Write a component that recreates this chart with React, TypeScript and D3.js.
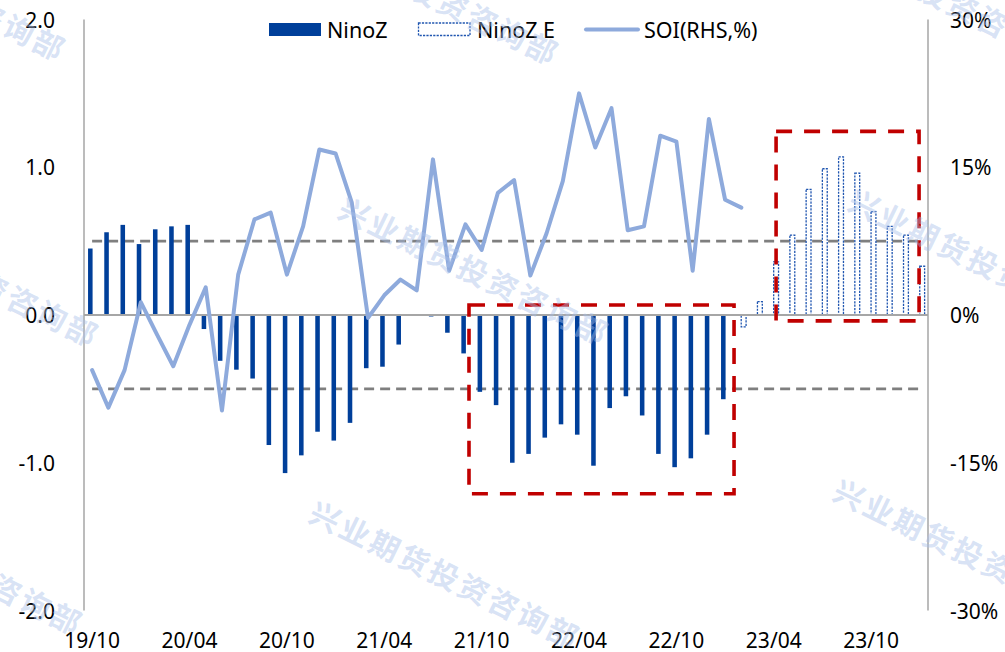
import React from "react";
import * as d3 from "d3";

const categories: string[] = [
  "2019-10","2019-11","2019-12","2020-01","2020-02","2020-03","2020-04","2020-05","2020-06","2020-07","2020-08","2020-09",
  "2020-10","2020-11","2020-12","2021-01","2021-02","2021-03","2021-04","2021-05","2021-06","2021-07","2021-08","2021-09",
  "2021-10","2021-11","2021-12","2022-01","2022-02","2022-03","2022-04","2022-05","2022-06","2022-07","2022-08","2022-09",
  "2022-10","2022-11","2022-12","2023-01","2023-02","2023-03","2023-04","2023-05","2023-06","2023-07","2023-08","2023-09",
  "2023-10","2023-11","2023-12","2024-01",
];

const ninoZ: (number | null)[] = [
  0.45, 0.56, 0.61, 0.48, 0.58, 0.60, 0.61, -0.095, -0.31, -0.37, -0.43, -0.88,
  -1.07, -0.95, -0.79, -0.85, -0.73, -0.36, -0.35, -0.20, 0, -0.01, -0.12, -0.26,
  -0.52, -0.61, -1.00, -0.94, -0.83, -0.74, -0.81, -1.02, -0.63, -0.55, -0.68, -0.94,
  -1.03, -0.97, -0.81, -0.57, null, null, null, null, null, null, null, null,
  null, null, null, null,
];

const ninoZE: (number | null)[] = [
  null, null, null, null, null, null, null, null, null, null, null, null,
  null, null, null, null, null, null, null, null, null, null, null, null,
  null, null, null, null, null, null, null, null, null, null, null, null,
  null, null, null, null, -0.08, 0.09, 0.36, 0.54, 0.85, 0.99, 1.07, 0.96,
  0.70, 0.60, 0.54, 0.33,
];

const soi: (number | null)[] = [
  -5.6, -9.4, -5.6, 1.3, -2.0, -5.2, -1.0, 2.8, -9.7, 4.1, 9.7, 10.4,
  4.1, 9.0, 16.8, 16.4, 11.4, -0.3, 2.0, 3.6, 2.5, 15.8, 4.5, 9.2,
  6.6, 12.4, 13.7, 4.0, 8.3, 13.6, 22.5, 17.0, 21.0, 8.6, 9.0, 18.2,
  17.6, 4.5, 19.9, 11.7, 10.9, null, null, null, null, null, null, null,
  null, null, null, null,
];

const leftTicks: number[] = [2, 1, 0, -1, -2];
const leftTickLabels: string[] = ["2.0", "1.0", "0.0", "-1.0", "-2.0"];
const rightTicks: number[] = [30, 15, 0, -15, -30];
const rightTickLabels: string[] = ["30%", "15%", "0%", "-15%", "-30%"];
const xTickCats: string[] = ["2019-10","2020-04","2020-10","2021-04","2021-10","2022-04","2022-10","2023-04","2023-10"];
const xTickLabels: string[] = ["19/10","20/04","20/10","21/04","21/10","22/04","22/10","23/04","23/10"];
const thresholds: number[] = [0.5, -0.5];

// annotation boxes in data space: [band start (category units), band end, top value, bottom value]
const boxes: [number, number, number, number][] = [
  [23.72, 40.05, 0.068, -1.21],
  [42.64, 51.45, 1.243, -0.04],
];

const watermarkText = "兴业期货投资咨询部";
const watermarkCenters: [number, number][] = [
  [-68, -14], [425, -10], [935, -8],
  [-35, 272], [475, 270], [985, 262],
  [-51, 560], [446, 574], [970, 552],
];

const FONT = "'Noto Sans', 'Open Sans', sans-serif";

export default function App() {
  const W = 1005, H = 652;
  const x = d3.scaleBand<string>().domain(categories).range([84, 928]).padding(0);
  const bw = x.bandwidth();
  const yL = d3.scaleLinear().domain([-2, 2]).range([610.5, 19.5]);
  const yR = d3.scaleLinear().domain([-30, 30]).range([610.5, 19.5]);
  const cx = (c: string) => (x(c) as number) + bw / 2;
  const xUnits = d3.scaleLinear().domain([0, categories.length]).range([84, 928]);

  const line = d3
    .line<number | null>()
    .defined((d) => d !== null)
    .x((_, i) => cx(categories[i]))
    .y((d) => yR(d as number));

  const nzW = bw * 0.28;
  const eW = bw * 0.3;

  return (
    <svg width={W} height={H} style={{ position: "absolute", left: 0, top: 0, background: "#fff" }} fontFamily={FONT}>
      <rect x={0} y={0} width={W} height={H} fill="#fff" />
      {/* threshold dashed lines */}
      {thresholds.map((t) => (
        <line key={t} x1={cx(categories[0])} x2={cx(categories[categories.length - 1])} y1={yL(t)} y2={yL(t)}
          stroke="#7f7f7f" strokeWidth={2.6} strokeDasharray="10 6" />
      ))}
      {/* NinoZ bars */}
      {ninoZ.map((v, i) =>
        v === null ? null : (
          <rect key={"n" + i} x={cx(categories[i]) - 1.8 - nzW / 2} width={nzW}
            y={Math.min(yL(v), yL(0))} height={Math.max(Math.abs(yL(v) - yL(0)), 0.8)} fill="#003f9a" />
        )
      )}
      {/* NinoZ E bars */}
      {ninoZE.map((v, i) =>
        v === null ? null : (
          <rect key={"e" + i} x={cx(categories[i]) + 2.3 - eW / 2} width={eW}
            y={Math.min(yL(v), yL(0))} height={Math.abs(yL(v) - yL(0))} fill="#fff"
            stroke="#1f55b0" strokeWidth={1.3} strokeDasharray="2.2 1.2" />
        )
      )}
      {/* axes */}
      <line x1={84} x2={84} y1={yL(2)} y2={yL(-2)} stroke="#a6a6a6" strokeWidth={1.5} />
      <line x1={928} x2={928} y1={yL(2)} y2={yL(-2)} stroke="#a6a6a6" strokeWidth={1.5} />
      <line x1={84} x2={928} y1={yL(0)} y2={yL(0)} stroke="#a6a6a6" strokeWidth={1.8} />
      {/* SOI line */}
      <path d={line(soi) || ""} fill="none" stroke="#8eaadc" strokeWidth={4} strokeLinejoin="round" strokeLinecap="round" />
      {/* red boxes */}
      {boxes.map((b, i) => (
        <rect key={"b" + i} x={xUnits(b[0])} y={yL(b[2])} width={xUnits(b[1]) - xUnits(b[0])} height={yL(b[3]) - yL(b[2])}
          fill="none" stroke="#c00000" strokeWidth={3.6} strokeDasharray="16 12" />
      ))}
      {/* tick labels */}
      {leftTicks.map((t, i) => (
        <text key={"l" + t} x={55} y={yL(t)} textAnchor="end" dominantBaseline="central" fontSize={21} fill="#000">
          {leftTickLabels[i]}
        </text>
      ))}
      {rightTicks.map((t, i) => (
        <text key={"r" + t} x={950} y={yR(t)} textAnchor="start" dominantBaseline="central" fontSize={21} fill="#000">
          {rightTickLabels[i]}
        </text>
      ))}
      {xTickCats.map((c, i) => (
        <text key={"x" + c} x={cx(c)} y={639.5} textAnchor="middle" dominantBaseline="central" fontSize={21} fill="#000">
          {xTickLabels[i]}
        </text>
      ))}
      {/* legend */}
      <rect x={269} y={23} width={52} height={13} fill="#003f9a" />
      <text x={327} y={29.5} dominantBaseline="central" fontSize={21.5} fill="#000">NinoZ</text>
      <rect x={418.5} y={23} width={51.5} height={12.5} fill="#fff" stroke="#1f55b0" strokeWidth={1.3} strokeDasharray="2.2 1.2" />
      <text x={477} y={29.5} dominantBaseline="central" fontSize={21.5} fill="#000">NinoZ E</text>
      <line x1={586} x2={638} y1={29.5} y2={29.5} stroke="#8eaadc" strokeWidth={4} strokeLinecap="round" />
      <text x={644} y={29.5} dominantBaseline="central" fontSize={21.5} fill="#000">SOI(RHS,%)</text>
      {/* watermarks */}
      {watermarkCenters.map(([wx, wy], i) => (
        <text key={"w" + i} transform={`translate(${wx},${wy}) rotate(26)`} textAnchor="middle" dominantBaseline="central"
          fontFamily="'Noto Sans CJK SC', sans-serif" fontWeight={700} fontSize={30} letterSpacing={3}
          fill="#a9c0ea" fillOpacity={0.45}>
          {watermarkText}
        </text>
      ))}
    </svg>
  );
}
